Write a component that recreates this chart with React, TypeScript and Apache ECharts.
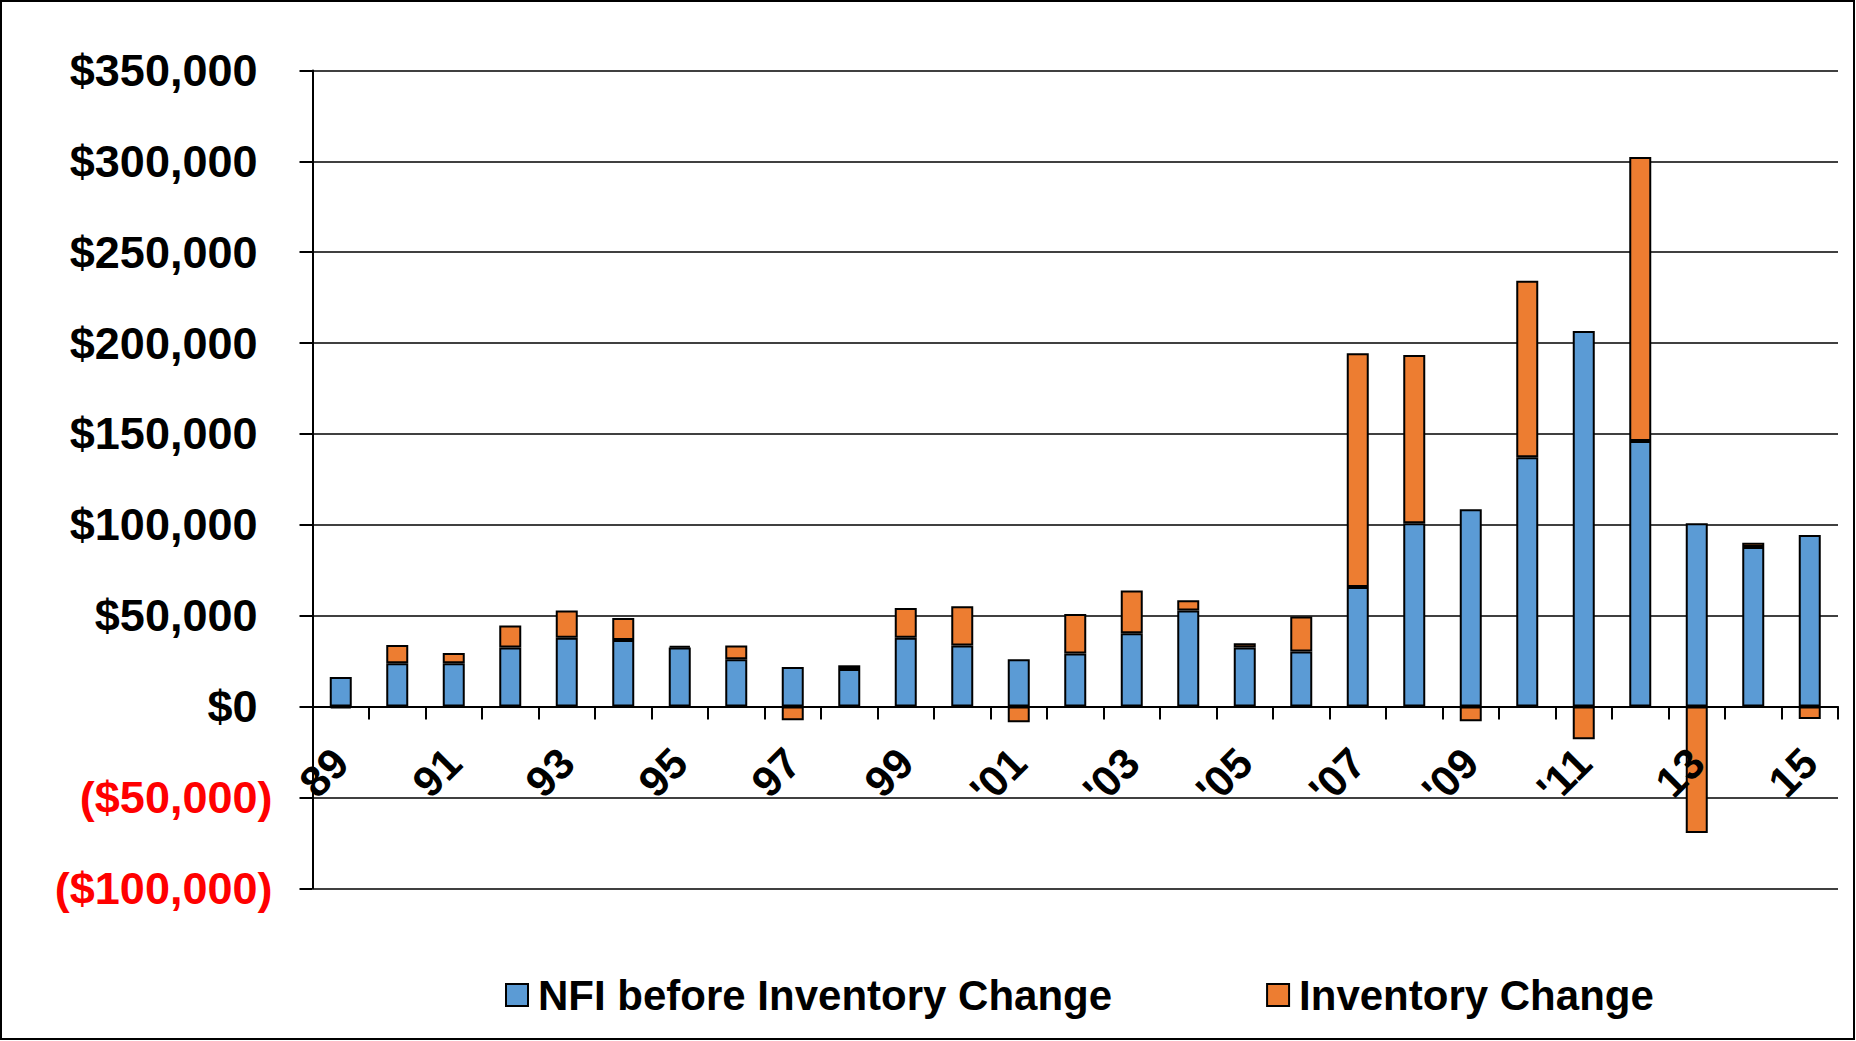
import React, { useEffect, useRef } from "react";
import * as echarts from "echarts";

const categories = [
  "89", "90", "91", "92", "93", "94", "95", "96", "97", "98", "99",
  "'00", "'01", "'02", "'03", "'04", "'05", "'06", "'07", "'08", "'09",
  "'10", "'11", "12", "13", "14", "15",
];

const nfiValues = [
  16200, 23800, 23800, 32500, 37900, 36600, 32500, 26000, 21700, 20600, 37900,
  33600, 26000, 29200, 40300, 52900, 32500, 30300, 65800, 100800, 108600,
  137200, 206600, 146100, 100800, 87800, 94400,
];

const inventoryValues = [
  -1000, 10000, 5600, 12100, 15000, 12100, 900, 7600, -7600, 2100, 16300,
  21600, -8700, 21700, 23600, 5600, 2300, 19300, 128600, 92600, -8100,
  97000, -18000, 156200, -69600, 2300, -6800,
];

const yMin = -100000;
const yMax = 350000;
const yStep = 50000;

const FONT = "'Liberation Sans', Arial, sans-serif";

const GRID_TOP = 70.4;
const GRID_BOTTOM = 152.7;
const HEIGHT = 1041;

function fmtMoney(v: number): string {
  const s = "$" + String(Math.abs(v)).replace(/\B(?=(\d{3})+(?!\d))/g, ",");
  return v < 0 ? `{neg|(${s})}` : `{pos|${s}}{pad|)}`;
}

export default function App() {
  const ref = useRef<HTMLDivElement>(null);

  useEffect(() => {
    document.body.style.margin = "0";
    if (!ref.current) return;
    const chart = echarts.init(ref.current, undefined, { renderer: "svg" });
    const gridH = HEIGHT - GRID_TOP - GRID_BOTTOM;
    const zeroOffset = -(gridH * (0 - yMin)) / (yMax - yMin);
    const labelRich = {
      pos: { color: "#000", fontSize: 45, fontWeight: "bold", fontFamily: FONT },
      neg: { color: "#FF0000", fontSize: 45, fontWeight: "bold", fontFamily: FONT },
      pad: { color: "rgba(0,0,0,0)", fontSize: 45, fontWeight: "bold", fontFamily: FONT },
    };
    chart.setOption({
      animation: false,
      backgroundColor: "#fff",
      graphic: [
        {
          type: "rect",
          shape: { x: 1, y: 1, width: 1853, height: 1038 },
          style: { fill: "none", stroke: "#000", lineWidth: 2 },
          silent: true,
        },
      ],
      grid: { left: 312.5, right: 18, top: GRID_TOP, bottom: GRID_BOTTOM },
      legend: {
        left: 500,
        top: 969,
        itemWidth: 22,
        itemHeight: 22,
        itemGap: 154,
        icon: "rect",
        textStyle: {
          fontSize: 42,
          fontWeight: "bold",
          fontFamily: FONT,
          color: "#000",
          padding: [0, 0, 0, 5],
        },
        data: ["NFI before Inventory Change", "Inventory Change"],
      },
      xAxis: {
        type: "category",
        data: categories,
        z: 3,
        offset: zeroOffset,
        axisLine: { onZero: false, lineStyle: { color: "#000", width: 2 } },
        axisTick: { show: true, interval: 0, length: 13, lineStyle: { color: "#000", width: 2 } },
        axisLabel: {
          interval: 1,
          rotate: 45,
          margin: 49,
          fontSize: 43,
          fontWeight: "bold",
          fontFamily: FONT,
          color: "#000",
        },
        splitLine: { show: false },
      },
      yAxis: {
        type: "value",
        min: yMin,
        max: yMax,
        interval: yStep,
        axisLine: { show: true, lineStyle: { color: "#000", width: 2 } },
        axisTick: { show: true, length: 13, lineStyle: { color: "#000", width: 2 } },
        axisLabel: {
          margin: 40,
          formatter: (v: number) => fmtMoney(v),
          rich: labelRich,
        },
        splitLine: { show: true, lineStyle: { color: "#000", width: 1.5 } },
      },
      series: [
        {
          name: "NFI before Inventory Change",
          type: "bar",
          stack: "total",
          barWidth: 22,
          data: nfiValues,
          itemStyle: { color: "#5B9BD5", borderColor: "#000", borderWidth: 2 },
        },
        {
          name: "Inventory Change",
          type: "bar",
          stack: "total",
          barWidth: 22,
          data: inventoryValues,
          itemStyle: { color: "#ED7D31", borderColor: "#000", borderWidth: 2 },
        },
      ],
    });
    return () => chart.dispose();
  }, []);

  return (
    <div
      ref={ref}
      style={{ position: "absolute", left: 0, top: 0, width: 1856, height: 1041 }}
    />
  );
}
